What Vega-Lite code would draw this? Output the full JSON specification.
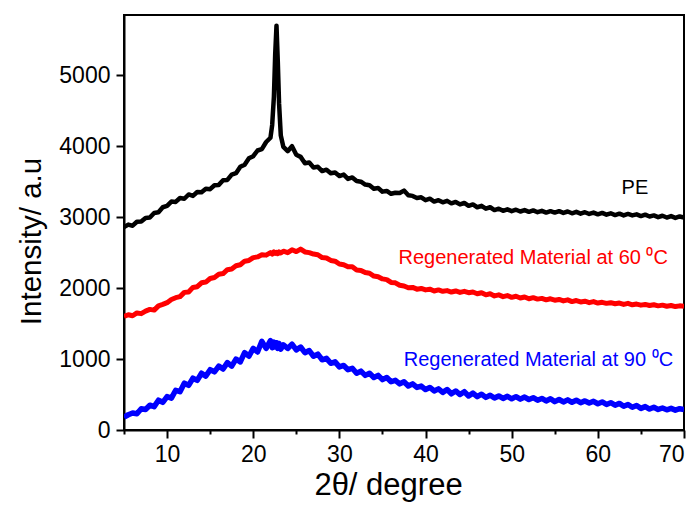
{
  "$schema": "https://vega.github.io/schema/vega-lite/v6.json",
  "width": 560,
  "height": 415,
  "autosize": {"type": "none"},
  "padding": {"left": 124, "top": 15, "right": 16, "bottom": 78},
  "background": "white",
  "config": {
    "view": {"stroke": "black", "strokeWidth": 2},
    "font": "Liberation Sans",
    "axis": {
      "grid": false,
      "domainColor": "black",
      "domainWidth": 2,
      "tickColor": "black",
      "tickWidth": 2,
      "labelColor": "black",
      "titleColor": "black",
      "labelFont": "Liberation Sans",
      "titleFont": "Liberation Sans",
      "labelFontSize": 23,
      "titleFontSize": 30,
      "titleFontWeight": "normal"
    }
  },
  "datasets": {
    "xrd": [
      {"x":5,"PE":2860,"R60":1600,"R90":180},
      {"x":5.5,"PE":2895,"R60":1625,"R90":215},
      {"x":6,"PE":2880,"R60":1610,"R90":240},
      {"x":6.5,"PE":2935,"R60":1650,"R90":230},
      {"x":7,"PE":2940,"R60":1640,"R90":300},
      {"x":7.5,"PE":2990,"R60":1675,"R90":290},
      {"x":8,"PE":2995,"R60":1700,"R90":350},
      {"x":8.5,"PE":3060,"R60":1690,"R90":330},
      {"x":9,"PE":3070,"R60":1750,"R90":420},
      {"x":9.5,"PE":3140,"R60":1770,"R90":390},
      {"x":10,"PE":3160,"R60":1795,"R90":470},
      {"x":10.5,"PE":3220,"R60":1840,"R90":450},
      {"x":11,"PE":3215,"R60":1865,"R90":560},
      {"x":11.5,"PE":3270,"R60":1880,"R90":540},
      {"x":12,"PE":3260,"R60":1940,"R90":660},
      {"x":12.5,"PE":3320,"R60":1945,"R90":630},
      {"x":13,"PE":3300,"R60":2010,"R90":730},
      {"x":13.5,"PE":3355,"R60":2020,"R90":700},
      {"x":14,"PE":3350,"R60":2075,"R90":800},
      {"x":14.5,"PE":3400,"R60":2085,"R90":760},
      {"x":15,"PE":3395,"R60":2135,"R90":850},
      {"x":15.5,"PE":3450,"R60":2150,"R90":820},
      {"x":16,"PE":3455,"R60":2195,"R90":900},
      {"x":16.5,"PE":3520,"R60":2205,"R90":860},
      {"x":17,"PE":3525,"R60":2260,"R90":950},
      {"x":17.5,"PE":3600,"R60":2270,"R90":900},
      {"x":18,"PE":3620,"R60":2315,"R90":1000},
      {"x":18.5,"PE":3710,"R60":2330,"R90":960},
      {"x":19,"PE":3740,"R60":2380,"R90":1090},
      {"x":19.5,"PE":3830,"R60":2390,"R90":1040},
      {"x":20,"PE":3860,"R60":2430,"R90":1150},
      {"x":20.5,"PE":3940,"R60":2440,"R90":1100},
      {"x":21,"PE":3960,"R60":2470,"R90":1250},
      {"x":21.5,"PE":4060,"R60":2465,"R90":1150},
      {"x":22,"PE":4120,"R60":2500,"R90":1260},
      {"x":22.2,"PE":4300,"R60":2480,"R90":1160},
      {"x":22.4,"PE":4700,"R60":2510,"R90":1240},
      {"x":22.55,"PE":5300,"R60":2490,"R90":1170},
      {"x":22.7,"PE":5700,"R60":2505,"R90":1230},
      {"x":22.85,"PE":5200,"R60":2485,"R90":1150},
      {"x":23,"PE":4600,"R60":2510,"R90":1220},
      {"x":23.2,"PE":4150,"R60":2495,"R90":1140},
      {"x":23.5,"PE":3990,"R60":2520,"R90":1200},
      {"x":24,"PE":3930,"R60":2500,"R90":1150},
      {"x":24.5,"PE":4000,"R60":2540,"R90":1210},
      {"x":25,"PE":3880,"R60":2515,"R90":1130},
      {"x":25.5,"PE":3850,"R60":2550,"R90":1170},
      {"x":26,"PE":3760,"R60":2510,"R90":1090},
      {"x":26.5,"PE":3770,"R60":2500,"R90":1120},
      {"x":27,"PE":3700,"R60":2480,"R90":1040},
      {"x":27.5,"PE":3710,"R60":2470,"R90":1070},
      {"x":28,"PE":3650,"R60":2430,"R90":990},
      {"x":28.5,"PE":3670,"R60":2425,"R90":1010},
      {"x":29,"PE":3620,"R60":2390,"R90":940},
      {"x":29.5,"PE":3630,"R60":2380,"R90":960},
      {"x":30,"PE":3580,"R60":2340,"R90":890},
      {"x":30.5,"PE":3600,"R60":2330,"R90":910},
      {"x":31,"PE":3540,"R60":2300,"R90":850},
      {"x":31.5,"PE":3560,"R60":2300,"R90":870},
      {"x":32,"PE":3510,"R60":2255,"R90":800},
      {"x":32.5,"PE":3500,"R60":2250,"R90":830},
      {"x":33,"PE":3460,"R60":2220,"R90":770},
      {"x":33.5,"PE":3450,"R60":2210,"R90":800},
      {"x":34,"PE":3400,"R60":2170,"R90":740},
      {"x":34.5,"PE":3410,"R60":2160,"R90":770},
      {"x":35,"PE":3360,"R60":2130,"R90":710},
      {"x":35.5,"PE":3370,"R60":2120,"R90":740},
      {"x":36,"PE":3330,"R60":2080,"R90":680},
      {"x":36.5,"PE":3345,"R60":2075,"R90":700},
      {"x":37,"PE":3340,"R60":2040,"R90":650},
      {"x":37.5,"PE":3375,"R60":2030,"R90":680},
      {"x":38,"PE":3310,"R60":2005,"R90":620},
      {"x":38.5,"PE":3300,"R60":2010,"R90":650},
      {"x":39,"PE":3270,"R60":1985,"R90":600},
      {"x":39.5,"PE":3280,"R60":1995,"R90":620},
      {"x":40,"PE":3240,"R60":1975,"R90":570},
      {"x":40.5,"PE":3260,"R60":1985,"R90":600},
      {"x":41,"PE":3220,"R60":1960,"R90":550},
      {"x":41.5,"PE":3240,"R60":1975,"R90":580},
      {"x":42,"PE":3210,"R60":1955,"R90":530},
      {"x":42.5,"PE":3230,"R60":1965,"R90":570},
      {"x":43,"PE":3195,"R60":1945,"R90":510},
      {"x":43.5,"PE":3215,"R60":1960,"R90":550},
      {"x":44,"PE":3180,"R60":1940,"R90":500},
      {"x":44.5,"PE":3200,"R60":1955,"R90":540},
      {"x":45,"PE":3160,"R60":1935,"R90":480},
      {"x":45.5,"PE":3180,"R60":1945,"R90":520},
      {"x":46,"PE":3140,"R60":1920,"R90":470},
      {"x":46.5,"PE":3160,"R60":1935,"R90":505},
      {"x":47,"PE":3120,"R60":1905,"R90":460},
      {"x":47.5,"PE":3140,"R60":1920,"R90":490},
      {"x":48,"PE":3100,"R60":1890,"R90":450},
      {"x":48.5,"PE":3120,"R60":1905,"R90":480},
      {"x":49,"PE":3090,"R60":1880,"R90":445},
      {"x":49.5,"PE":3110,"R60":1895,"R90":475},
      {"x":50,"PE":3085,"R60":1870,"R90":440},
      {"x":50.5,"PE":3105,"R60":1885,"R90":470},
      {"x":51,"PE":3080,"R60":1860,"R90":435},
      {"x":51.5,"PE":3100,"R60":1875,"R90":465},
      {"x":52,"PE":3075,"R60":1850,"R90":430},
      {"x":52.5,"PE":3095,"R60":1865,"R90":455},
      {"x":53,"PE":3070,"R60":1845,"R90":420},
      {"x":53.5,"PE":3090,"R60":1855,"R90":445},
      {"x":54,"PE":3065,"R60":1835,"R90":410},
      {"x":54.5,"PE":3085,"R60":1850,"R90":440},
      {"x":55,"PE":3065,"R60":1830,"R90":400},
      {"x":55.5,"PE":3085,"R60":1840,"R90":430},
      {"x":56,"PE":3060,"R60":1820,"R90":395},
      {"x":56.5,"PE":3080,"R60":1835,"R90":425},
      {"x":57,"PE":3055,"R60":1810,"R90":390},
      {"x":57.5,"PE":3075,"R60":1825,"R90":420},
      {"x":58,"PE":3050,"R60":1805,"R90":385},
      {"x":58.5,"PE":3070,"R60":1815,"R90":410},
      {"x":59,"PE":3045,"R60":1795,"R90":380},
      {"x":59.5,"PE":3065,"R60":1810,"R90":405},
      {"x":60,"PE":3040,"R60":1790,"R90":370},
      {"x":60.5,"PE":3060,"R60":1800,"R90":395},
      {"x":61,"PE":3035,"R60":1785,"R90":360},
      {"x":61.5,"PE":3055,"R60":1795,"R90":385},
      {"x":62,"PE":3030,"R60":1780,"R90":350},
      {"x":62.5,"PE":3050,"R60":1790,"R90":375},
      {"x":63,"PE":3025,"R60":1770,"R90":335},
      {"x":63.5,"PE":3045,"R60":1785,"R90":360},
      {"x":64,"PE":3025,"R60":1765,"R90":320},
      {"x":64.5,"PE":3040,"R60":1775,"R90":345},
      {"x":65,"PE":3015,"R60":1760,"R90":305},
      {"x":65.5,"PE":3035,"R60":1770,"R90":330},
      {"x":66,"PE":3010,"R60":1755,"R90":295},
      {"x":66.5,"PE":3025,"R60":1765,"R90":320},
      {"x":67,"PE":3000,"R60":1750,"R90":290},
      {"x":67.5,"PE":3020,"R60":1760,"R90":310},
      {"x":68,"PE":2995,"R60":1745,"R90":285},
      {"x":68.5,"PE":3015,"R60":1755,"R90":305},
      {"x":69,"PE":2990,"R60":1740,"R90":280},
      {"x":69.5,"PE":3010,"R60":1750,"R90":300},
      {"x":70,"PE":2995,"R60":1745,"R90":290}
    ],
    "labels": [
      {"series":"PE","x":64.3,"y":3410,"text":"PE"},
      {"series":"R60","x":52.5,"y":2420,"text":"Regenerated Material at 60 ⁰C"},
      {"series":"R90","x":53.1,"y":990,"text":"Regenerated Material at 90 ⁰C"}
    ]
  },
  "layer": [
    {
      "data": {"name": "xrd"},
      "transform": [{"fold": ["PE", "R60", "R90"], "as": ["series", "intensity"]}],
      "mark": {"type": "line", "strokeJoin": "round", "clip": true},
      "encoding": {
        "x": {
          "field": "x", "type": "quantitative",
          "scale": {"domain": [5, 70], "nice": false, "zero": false},
          "axis": {
            "title": "2θ/ degree",
            "titleFontSize": 31,
            "titleX": 264,
            "values": [5, 10, 15, 20, 25, 30, 35, 40, 45, 50, 55, 60, 65, 70],
            "labelExpr": "datum.value % 10 === 0 ? datum.label : ''",
            "tickSize": {"condition": {"test": "datum.value % 10 === 0", "value": 8}, "value": 4},
            "labelPadding": 5,
            "titlePadding": 4
          }
        },
        "y": {
          "field": "intensity", "type": "quantitative",
          "scale": {"domain": [0, 5850], "nice": false},
          "axis": {
            "title": "Intensity/ a.u",
            "titleFontSize": 29.5,
            "titleY": 226,
            "values": [0, 500, 1000, 1500, 2000, 2500, 3000, 3500, 4000, 4500, 5000, 5500],
            "labelExpr": "datum.value % 1000 === 0 ? datum.label : ''",
            "format": "d",
            "tickSize": {"condition": {"test": "datum.value % 1000 === 0", "value": 8}, "value": 4},
            "labelPadding": 6,
            "titlePadding": 12
          }
        },
        "color": {
          "field": "series", "type": "nominal",
          "scale": {"domain": ["PE", "R60", "R90"], "range": ["#000000", "#ff0000", "#0000ff"]},
          "legend": null
        },
        "strokeWidth": {
          "field": "series", "type": "nominal",
          "scale": {"domain": ["PE", "R60", "R90"], "range": [4.5, 5.5, 7]},
          "legend": null
        }
      }
    },
    {
      "data": {"name": "labels"},
      "mark": {"type": "text", "fontSize": 20, "align": "center", "baseline": "middle", "font": "Liberation Sans"},
      "encoding": {
        "x": {"field": "x", "type": "quantitative"},
        "y": {"field": "y", "type": "quantitative"},
        "text": {"field": "text"},
        "color": {"field": "series", "type": "nominal", "legend": null}
      }
    }
  ]
}
